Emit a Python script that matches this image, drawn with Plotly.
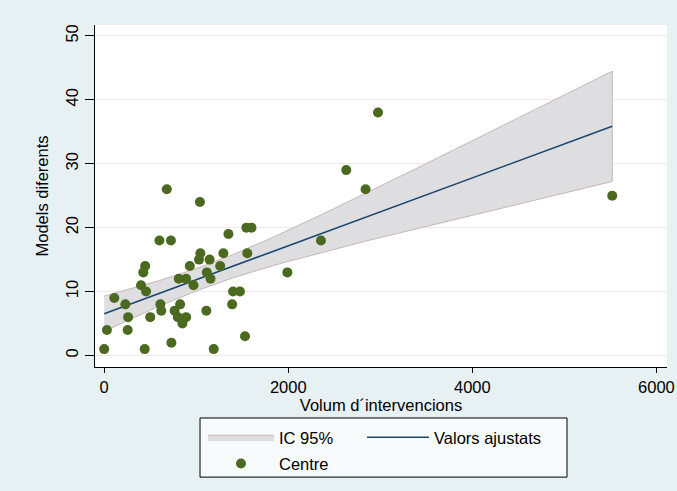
import numpy as np
import plotly.graph_objects as go

# Centres: volume of interventions vs number of different models
volum = [0, 30, 110, 230, 260, 255, 440, 400, 425, 445, 455, 500, 600, 610, 620,
         680, 725, 730, 765, 800, 810, 825, 850, 890, 890, 930, 970, 1030, 1045,
         1040, 1115, 1145, 1155, 1110, 1190, 1260, 1295, 1350, 1390, 1400, 1475,
         1530, 1545, 1600, 1555, 1990, 2355, 2630, 2840, 2975, 5520]
models = [1, 4, 9, 8, 6, 4, 1, 11, 13, 14, 10, 6, 18, 8, 7,
          26, 18, 2, 7, 6, 12, 8, 5, 12, 6, 14, 11, 15, 16,
          24, 13, 15, 12, 7, 1, 14, 16, 19, 8, 10, 10,
          3, 20, 20, 16, 13, 18, 29, 26, 38, 25]

x_ticks = [0, 2000, 4000, 6000]
y_ticks = [0, 10, 20, 30, 40, 50]

# Linear fit with 95% confidence band for the mean prediction
x = np.array(volum, float)
y = np.array(models, float)
n = len(x)
b1, b0 = np.polyfit(x, y, 1)
resid = y - (b0 + b1 * x)
s = np.sqrt(np.sum(resid ** 2) / (n - 2))
sxx = np.sum((x - x.mean()) ** 2)
t975 = 2.01
xg = np.linspace(x.min(), x.max(), 120)
yg = b0 + b1 * xg
half = t975 * s * np.sqrt(1 / n + (xg - x.mean()) ** 2 / sxx)
lo, hi = yg - half, yg + half

FONT = "Liberation Sans, Arial, sans-serif"
LEG_FONT = dict(size=16.5, color="black", family=FONT)

fig = go.Figure()
fig.add_trace(go.Scatter(
    x=np.concatenate([xg, xg[::-1]]), y=np.concatenate([hi, lo[::-1]]),
    fill="toself", fillcolor="rgb(222,222,224)",
    line=dict(color="#c9b5b5", width=1), mode="lines",
    name="IC 95%", hoverinfo="skip", legend="legend"))
fig.add_trace(go.Scatter(
    x=xg, y=yg, mode="lines", line=dict(color="#1a476f", width=1.6),
    name="Valors ajustats", legend="legend2"))
fig.add_trace(go.Scatter(
    x=volum, y=models, mode="markers",
    marker=dict(color="#4b6a1f", size=10, line=dict(width=0)),
    name="Centre", legend="legend3"))

axis_common = dict(
    showline=True, linecolor="black", linewidth=1.2,
    ticks="outside", tickcolor="black", tickwidth=1.2,
    tickfont=dict(size=16.5, color="black", family=FONT),
    zeroline=False, mirror=False, automargin=False,
)
fig.update_xaxes(
    range=[-100, 6115], tickvals=x_ticks, showgrid=False, ticklen=5,
    title=dict(text="Volum d´intervencions", standoff=0,
               font=dict(size=16.5, color="black", family=FONT)),
    **axis_common)
fig.update_yaxes(
    range=[-1.8, 51.7], tickvals=y_ticks, tickangle=-90, ticklen=9,
    showgrid=True, gridcolor="#efe9e9", gridwidth=1,
    title=dict(text="Models diferents", standoff=10,
               font=dict(size=16.5, color="black", family=FONT)),
    **axis_common)

# Legend frame (paper coordinates below the x axis)
fig.add_shape(type="rect", xref="paper", yref="paper",
              x0=0.1836, x1=0.8252, y0=-0.322, y1=-0.1491,
              fillcolor="#f8fbfc", line=dict(color="black", width=1),
              layer="below")

leg_common = dict(orientation="h", xanchor="left", yanchor="top",
                  bgcolor="rgba(0,0,0,0)", borderwidth=0, font=LEG_FONT)
fig.update_layout(
    width=677, height=491,
    margin=dict(l=95, r=10, t=25, b=124, autoexpand=False),
    paper_bgcolor="#e7f0f3", plot_bgcolor="white",
    font=dict(family=FONT, size=16.5, color="black"),
    legend=dict(x=0.1888, y=-0.155, itemwidth=66, **leg_common),
    legend2=dict(x=0.4668, y=-0.155, itemwidth=62, **leg_common),
    legend3=dict(x=0.1888, y=-0.232, itemwidth=66, **leg_common),
    showlegend=True,
)

fig.write_html("out.html")
